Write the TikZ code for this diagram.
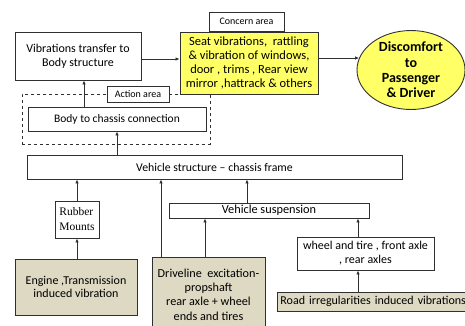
\documentclass[tikz,border=0pt]{standalone}
\usepackage{fontspec}
\setmainfont{Carlito}
\newfontfamily\serifrm{Liberation Serif}
\usetikzlibrary{shapes.geometric,arrows.meta}
\definecolor{ylw}{HTML}{FFFF66}
\definecolor{khaki}{HTML}{DDD9C3}
\definecolor{edge}{HTML}{303030}
\tikzset{
  box/.style={draw=edge,line width=0.9pt,fill=white,inner sep=1pt,align=center,font=\fontsize{12}{14}\selectfont},
  ybox/.style={box,fill=ylw,font=\fontsize{12.5}{14}\selectfont},
  kbox/.style={box,fill=khaki,font=\fontsize{12}{13.5}\selectfont},
  lbl/.style={draw=edge,line width=0.8pt,fill=white,inner sep=1pt,font=\fontsize{10}{11}\selectfont},
  arr/.style={draw=edge,line width=0.9pt,-{Latex[length=4pt,width=3.5pt]}},
}
\begin{document}
\begin{tikzpicture}[x=1pt,y=-1pt]
\useasboundingbox (0,0) rectangle (465,325);
\clip (0,0) rectangle (465,325);
\fill[white] (0,0) rectangle (465,325);
% top row
\node[box,minimum width=126,minimum height=48] (vib) at (78,56) {Vibrations transfer to\\Body structure};
\node[ybox,minimum width=138,minimum height=62] (seat) at (249,63) {Seat vibrations,\ \ rattling\\\&\ vibration of windows,\\door , trims , Rear view\\mirror ,hattrack \&\ others};
\node[lbl,minimum width=75,minimum height=19] (concern) at (246.5,21.5) {Concern area};
\node[ellipse,draw=edge,line width=0.9pt,fill=ylw,minimum width=108,minimum height=72,inner sep=0pt,align=center,font=\bfseries\fontsize{14}{15.3}\selectfont] (disc) at (411,70) {Discomfort\\to\\Passenger\\\&\ Driver};
% action area
\node[draw=edge,dashed,line width=0.9pt,minimum width=188,minimum height=50,inner sep=0pt] (action) at (116,119) {};
\node[lbl,minimum width=62,minimum height=16] (actlbl) at (138,94) {Action area};
\node[box,minimum width=178,minimum height=24,font=\fontsize{11.5}{13}\selectfont] (b2c) at (117,119) {Body to chassis connection};
% chassis
\node[box,minimum width=375,minimum height=24,font=\fontsize{11.8}{13}\selectfont] (vs) at (214.5,167) {Vehicle structure -- chassis frame};
\node[box,minimum width=44,minimum height=37,align=left,font=\serifrm\fontsize{11.5}{15}\selectfont] (rubber) at (77,219.5) {Rubber\\Mounts};
\node[box,minimum width=200,minimum height=15,inner sep=0pt,font=\fontsize{12.3}{13}\selectfont] (susp) at (269,210.5) {Vehicle suspension};
\node[box,minimum width=137,minimum height=33] (wheel) at (365.5,253.5) {wheel and tire , front axle\\, rear axles};
% sources
\node[kbox,minimum width=122,minimum height=56] (engine) at (76,287) {Engine ,Transmission\\induced vibration};
\node[kbox,minimum width=113,minimum height=80,anchor=north west] (drive) at (152,257) {};
\node[align=center,font=\fontsize{12.2}{14.2}\selectfont] (drivetxt) at (208.5,294.5) {Driveline\ \ excitation-\\propshaft\\rear axle + wheel\\ends and tires};
\node[kbox,minimum width=200,minimum height=19,anchor=west,text width=194,align=left] (road) at (277,301.5) {Road irregularities induced vibrations};
% helper positions
\coordinate (x1) at (84,0);
\coordinate (x2) at (161,0);
\coordinate (x3) at (205,0);
\coordinate (x4) at (247,0);
\coordinate (x5) at (358,0);
\coordinate (y1) at (0,59);
% connectors
\draw[arr] (vib.east |- y1) -- (seat.west |- y1);
\draw[arr] (seat.east |- disc.167.9) -- (disc.167.9);
\draw[arr] (b2c.north -| x1) -- (vib.south -| x1);
\draw[arr] (vs.north -| b2c.south) -- (b2c.south);
\draw[arr] (rubber.north) -- (vs.south -| rubber.north);
\draw[arr] (engine.north -| rubber.south) -- (rubber.south);
\draw[arr] (drive.north -| x2) -- (vs.south -| x2);
\draw[arr] (drive.north -| x3) -- (susp.south -| x3);
\draw[arr] (susp.north -| x4) -- (vs.south -| x4);
\draw[arr] (wheel.north -| x5) -- (susp.south -| x5);
\draw[arr] (road.north -| x5) -- (wheel.south -| x5);
\end{tikzpicture}
\end{document}
